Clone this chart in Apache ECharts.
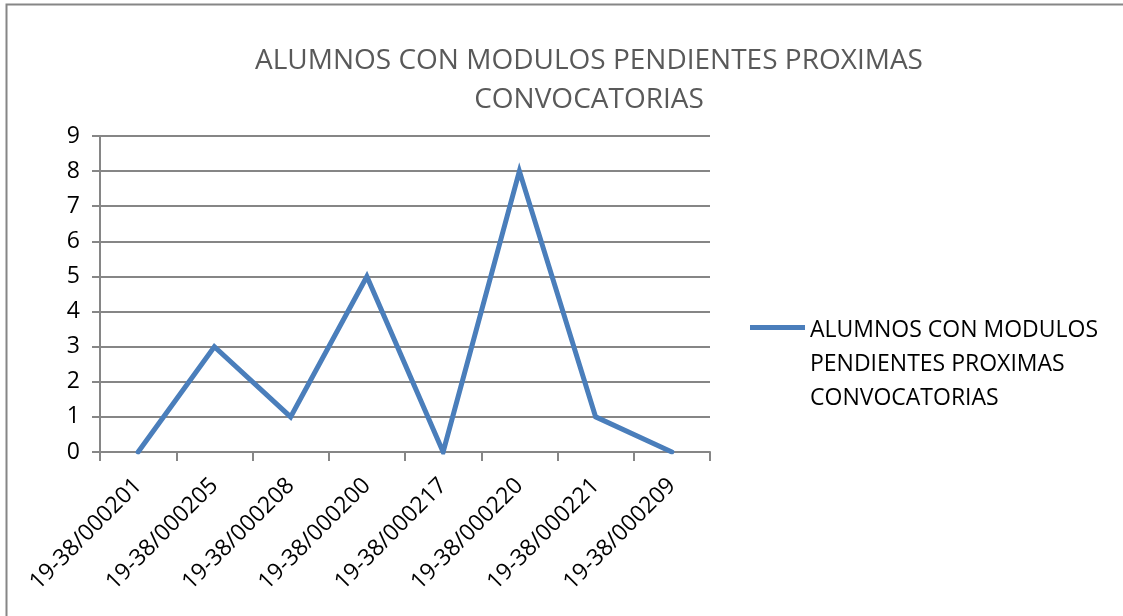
<!DOCTYPE html>
<html>
<head>
<meta charset="utf-8">
<script src="https://cdn.jsdelivr.net/npm/echarts@6/dist/echarts.min.js"></script>
<style>
  html, body { margin: 0; padding: 0; background: #fff; }
  #chart { width: 1123px; height: 616px; }
</style>
</head>
<body>
<div id="chart"></div>
<script>
const titleText = "ALUMNOS CON MODULOS PENDIENTES PROXIMAS\nCONVOCATORIAS";
const seriesName = "ALUMNOS CON MODULOS PENDIENTES PROXIMAS CONVOCATORIAS";
const legendLabel = "ALUMNOS CON MODULOS\nPENDIENTES PROXIMAS\nCONVOCATORIAS";
const categories = [
  "19-38/000201", "19-38/000205", "19-38/000208", "19-38/000200",
  "19-38/000217", "19-38/000220", "19-38/000221", "19-38/000209"
];
const values = [0, 3, 1, 5, 0, 8, 1, 0];

const font = "'Open Sans', 'Liberation Sans', sans-serif";
const gray = "#868686";

var myChart = echarts.init(document.getElementById("chart"));
var option = {
  animation: false,
  textStyle: { fontFamily: font },
  title: {
    text: titleText,
    left: 584,
    top: 37,
    textAlign: "center",
    textStyle: {
      fontFamily: font,
      fontSize: 28,
      fontWeight: "normal",
      color: "#595959",
      lineHeight: 39
    }
  },
  legend: {
    data: [seriesName],
    left: 750,
    top: 313,
    padding: 0,
    itemWidth: 55,
    itemHeight: 78,
    itemGap: 0,
    // bar at the top of a tall item so it lines up with the first text line
    icon: "path://M0,0 L55,0 L55,5 L0,5 Z M0,78 L55,78 Z",
    formatter: function () { return legendLabel; },
    textStyle: {
      fontFamily: font,
      fontSize: 23,
      color: "#000",
      lineHeight: 34
    }
  },
  grid: {
    left: 100,
    right: 413,
    top: 136,
    bottom: 164
  },
  xAxis: {
    type: "category",
    data: categories,
    boundaryGap: true,
    axisLine: { lineStyle: { color: gray, width: 2 } },
    axisTick: { show: true, length: 9, lineStyle: { color: gray, width: 2 } },
    axisLabel: {
      rotate: 45,
      fontSize: 23,
      color: "#000",
      fontFamily: font,
      margin: 30
    },
    splitLine: { show: false }
  },
  yAxis: {
    type: "value",
    min: 0,
    max: 9,
    interval: 1,
    axisLine: { show: true, lineStyle: { color: gray, width: 2 } },
    axisTick: { show: true, length: 8, lineStyle: { color: gray, width: 2 } },
    axisLabel: { fontSize: 23, color: "#000", fontFamily: font, margin: 20 },
    splitLine: { show: true, lineStyle: { color: gray, width: 2 } }
  },
  graphic: [
    {
      type: "polyline",
      shape: { points: [[6.5, 616], [6.5, 4.5], [1123, 4.5]] },
      style: { stroke: gray, lineWidth: 2, fill: null },
      silent: true
    }
  ],
  series: [
    {
      name: seriesName,
      type: "line",
      data: values,
      symbol: "none",
      lineStyle: { color: "#4a7ebb", width: 5, cap: "round", join: "miter" },
      itemStyle: { color: "#4a7ebb" }
    }
  ]
};
myChart.setOption(option);
</script>
</body>
</html>
